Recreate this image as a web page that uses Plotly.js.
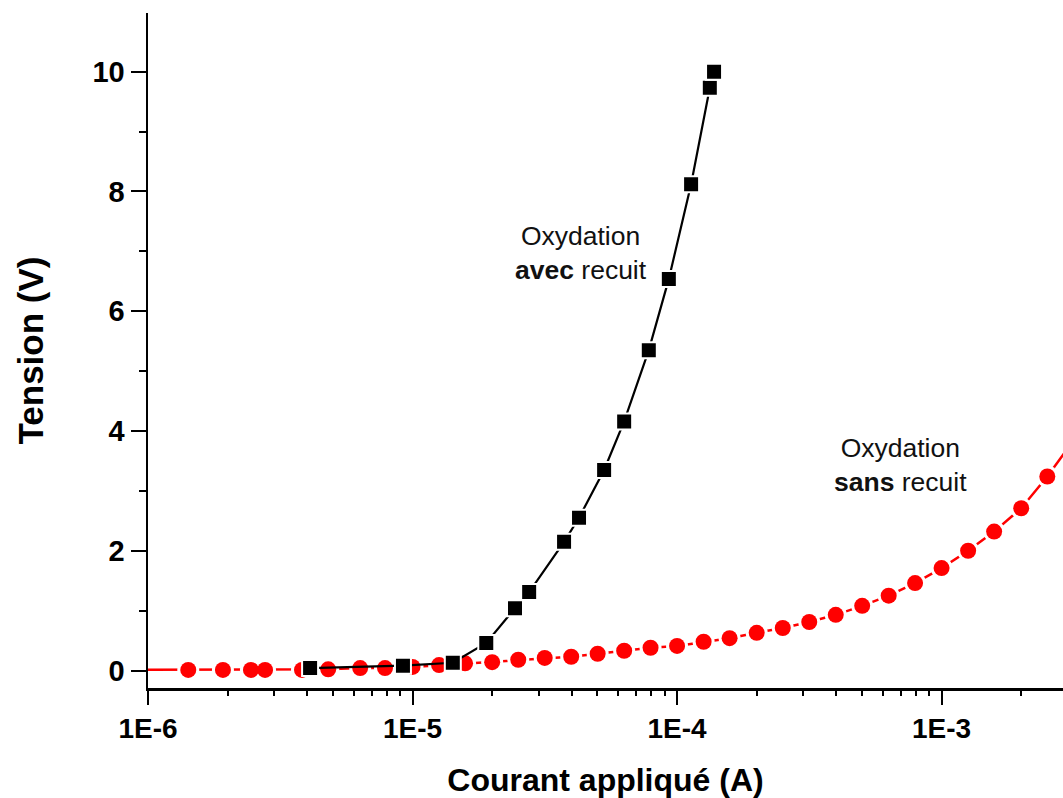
<!DOCTYPE html>
<html>
<head>
<meta charset="utf-8">
<script src="https://cdn.plot.ly/plotly-3.0.1.min.js"></script>
<style>html,body{margin:0;padding:0;background:#fff;}#chart{width:1063px;height:798px;}</style>
</head>
<body>
<div id="chart"></div>
<script>
// Oxydation avec recuit (black squares)
const avecCourant = [4.10e-6, 9.2e-6, 1.42e-5, 1.90e-5, 2.44e-5, 2.76e-5, 3.74e-5, 4.26e-5, 5.30e-5, 6.31e-5, 7.82e-5, 9.31e-5, 1.13e-4, 1.33e-4, 1.38e-4];
const avecTension = [0.04, 0.08, 0.13, 0.46, 1.04, 1.31, 2.15, 2.55, 3.35, 4.16, 5.35, 6.54, 8.12, 9.73, 10.0];

// Oxydation sans recuit (red circles); first and last points lie just outside the visible range
const sansCourant = [8.0e-7, 1.42e-6, 1.92e-6, 2.45e-6, 2.77e-6, 3.82e-6, 4.80e-6, 6.34e-6, 7.87e-6,
  1.0e-5, 1.26e-5, 1.58e-5, 2.0e-5, 2.51e-5, 3.16e-5, 3.98e-5, 5.01e-5, 6.31e-5, 7.94e-5,
  1.0e-4, 1.26e-4, 1.58e-4, 2.0e-4, 2.51e-4, 3.16e-4, 3.98e-4, 5.01e-4, 6.31e-4, 7.94e-4,
  1.0e-3, 1.26e-3, 1.58e-3, 2.0e-3, 2.51e-3, 3.16e-3];
const sansTension = [0.01, 0.01, 0.01, 0.01, 0.01, 0.01, 0.02, 0.04, 0.04,
  0.06, 0.09, 0.12, 0.14, 0.18, 0.21, 0.23, 0.28, 0.33, 0.38,
  0.41, 0.48, 0.54, 0.63, 0.71, 0.81, 0.93, 1.08, 1.25, 1.46,
  1.71, 2.00, 2.32, 2.71, 3.24, 3.85];

// Tick labels
const xTickVals = [1e-6, 1e-5, 1e-4, 1e-3];
const xTickText = ["1E-6", "1E-5", "1E-4", "1E-3"];
const yTickVals = [0, 2, 4, 6, 8, 10];
const yTickText = ["0", "2", "4", "6", "8", "10"];

// minor ticks on the log axis: 2..9 within each decade
const xMinorTicks = [];
xTickVals.forEach(function (d) {
  for (let m = 2; m <= 9; m++) xMinorTicks.push(m * d);
});

const FONT = "Liberation Sans, Arial, Helvetica, sans-serif";
const RED = "#ff0000";
const X_RANGE = [-6, -2.541];

const traces = [
  {x: sansCourant, y: sansTension, mode: "lines", line: {color: RED, width: 2.5}, hoverinfo: "skip", showlegend: false},
  {x: sansCourant, y: sansTension, mode: "markers", marker: {symbol: "circle", size: 22, color: "#ffffff"}, hoverinfo: "skip", showlegend: false},
  {x: sansCourant, y: sansTension, mode: "markers", name: "Oxydation sans recuit", marker: {symbol: "circle", size: 16, color: RED}, showlegend: false},
  {x: avecCourant, y: avecTension, mode: "lines", line: {color: "#000000", width: 2.2}, hoverinfo: "skip", showlegend: false},
  {x: avecCourant, y: avecTension, mode: "markers", name: "Oxydation avec recuit", marker: {symbol: "square", size: 16, color: "#000000", line: {color: "#ffffff", width: 2}}, showlegend: false},
  // empty trace that only makes the minor-tick overlay axis appear
  {x: [], y: [], xaxis: "x2", yaxis: "y", mode: "markers", hoverinfo: "skip", showlegend: false}
];

const layout = {
  width: 1063, height: 798,
  margin: {l: 148, r: 0, t: 13, b: 110},
  paper_bgcolor: "#ffffff", plot_bgcolor: "#ffffff",
  font: {family: FONT, color: "#000000"},
  showlegend: false,
  xaxis: {
    type: "log",
    range: X_RANGE,
    tickmode: "array", tickvals: xTickVals, ticktext: xTickText,
    ticks: "outside", ticklen: 14, tickwidth: 2, tickcolor: "#000",
    showline: true, linecolor: "#000", linewidth: 2.5,
    showgrid: false, zeroline: false,
    tickfont: {family: FONT, size: 28, color: "#000", weight: "bold"},
    title: {text: "<b>Courant appliqué (A)</b>", font: {family: FONT, size: 32, color: "#000"}, standoff: 26}
  },
  xaxis2: {
    type: "log", overlaying: "x", anchor: "y", side: "bottom",
    range: X_RANGE,
    tickmode: "array", tickvals: xMinorTicks, showticklabels: false,
    ticks: "outside", ticklen: 7, tickwidth: 2, tickcolor: "#000",
    showline: false, showgrid: false, zeroline: false
  },
  yaxis: {
    range: [-0.292, 10.98],
    tickmode: "array", tickvals: yTickVals, ticktext: yTickText,
    ticks: "outside", ticklen: 15, tickwidth: 2, tickcolor: "#000",
    minor: {ticks: "outside", ticklen: 7, tickwidth: 2, tickcolor: "#000", dtick: 1, showgrid: false},
    showline: true, linecolor: "#000", linewidth: 2.5,
    showgrid: false, zeroline: false,
    tickfont: {family: FONT, size: 29, color: "#000", weight: "bold"},
    title: {text: "<b>Tension (V)</b>", font: {family: FONT, size: 35, color: "#000"}, standoff: 38}
  },
  annotations: [
    {xref: "x", yref: "y", x: -4.365, y: 6.98, text: "Oxydation<br><b>avec</b> recuit", showarrow: false,
     font: {family: FONT, size: 26.5, color: "#111"}, align: "center", xanchor: "center", yanchor: "middle"},
    {xref: "x", yref: "y", x: -3.155, y: 3.44, text: "Oxydation<br><b>sans</b> recuit", showarrow: false,
     font: {family: FONT, size: 26.5, color: "#111"}, align: "center", xanchor: "center", yanchor: "middle"}
  ]
};

Plotly.newPlot("chart", traces, layout, {displayModeBar: false, staticPlot: true});
</script>
</body>
</html>
